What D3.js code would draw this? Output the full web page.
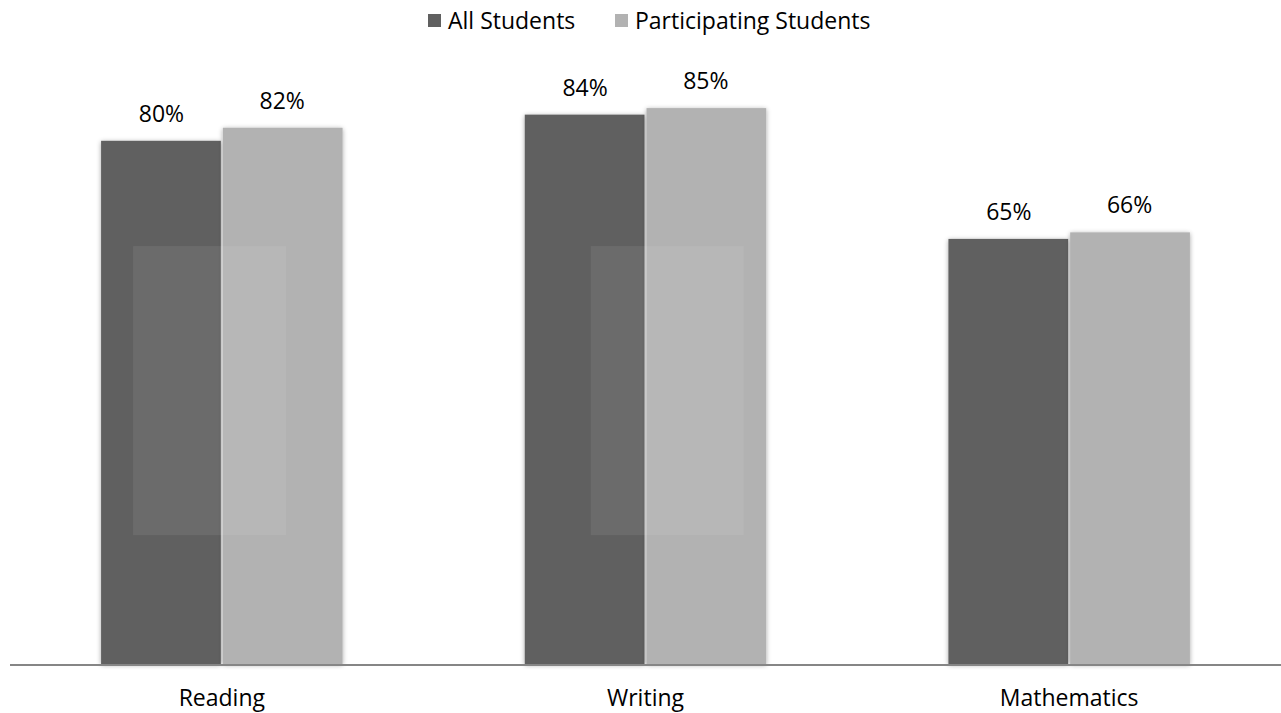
<html>
<head>
<style>
body { margin:0; background:#ffffff; }
svg { display:block; font-family:"Open Sans", "Noto Sans", sans-serif; }
</style>
<script src="https://cdn.jsdelivr.net/npm/d3@7"></script>
</head>
<body>
<svg id="chart" width="1281" height="713"></svg>
<script>
var categories = ["Reading", "Writing", "Mathematics"];
var seriesNames = ["All Students", "Participating Students"];
var allStudents = [80, 84, 65];
var participating = [82, 85, 66];
var seriesColors = ["#606060", "#b2b2b2"];

var svg = d3.select("#chart");
var baseY = 664;

var xScale = d3.scaleBand().domain(categories).range([10, 1281]).paddingInner(0.43).paddingOuter(0.215);
var xInner = d3.scaleBand().domain(seriesNames).range([0, xScale.bandwidth()]).padding(0);
var yScale = d3.scaleLinear().domain([0, 100]).range([baseY, 10]);

// soft glow round the bars
var defs = svg.append("defs");
var f = defs.append("filter").attr("id", "glow").attr("x", "-10%").attr("y", "-5%").attr("width", "120%").attr("height", "110%");
f.append("feGaussianBlur").attr("in", "SourceAlpha").attr("stdDeviation", 2.5).attr("result", "b");
f.append("feOffset").attr("in", "b").attr("dx", 0).attr("dy", 1).attr("result", "o");
f.append("feComponentTransfer").attr("in", "o").attr("result", "s")
  .append("feFuncA").attr("type", "linear").attr("slope", 0.35);
var m = f.append("feMerge");
m.append("feMergeNode").attr("in", "s");
m.append("feMergeNode").attr("in", "SourceGraphic");

var rows = [];
categories.forEach(function(c, i) {
  rows.push({cat: c, s: seriesNames[0], v: allStudents[i], color: seriesColors[0]});
  rows.push({cat: c, s: seriesNames[1], v: participating[i], color: seriesColors[1]});
});

svg.append("g").selectAll("rect").data(rows).enter().append("rect")
  .attr("x", function(d) { return xScale(d.cat) + xInner(d.s) + (d.s === seriesNames[1] ? 1 : 0); })
  .attr("y", function(d) { return yScale(d.v); })
  .attr("width", function(d) { return xInner.bandwidth() - 1; })
  .attr("height", function(d) { return baseY - yScale(d.v); })
  .attr("fill", function(d) { return d.color; })
  .attr("filter", "url(#glow)");

// faint light panel over the first two groups
var panelShift = [32, 66];
svg.append("g").selectAll("rect").data(categories.slice(0, 2)).enter().append("rect")
  .attr("x", function(d, i) { return xScale(d) + panelShift[i]; })
  .attr("y", yScale(63.9))
  .attr("width", 153)
  .attr("height", yScale(19.7) - yScale(63.9))
  .attr("fill", "#ffffff").attr("opacity", 0.07);

// value labels
svg.append("g").selectAll("text").data(rows).enter().append("text")
  .attr("x", function(d) { return xScale(d.cat) + xInner(d.s) + xInner.bandwidth() / 2; })
  .attr("y", function(d) { return yScale(d.v) - 19; })
  .attr("text-anchor", "middle")
  .attr("font-size", 23)
  .attr("fill", "#000000")
  .text(function(d) { return d.v + "%"; });

// x axis
var xAxis = d3.axisBottom(xScale).tickSize(0).tickPadding(26);
var ax = svg.append("g").attr("transform", "translate(0," + baseY + ")").call(xAxis);
ax.select(".domain").attr("stroke", "#868686").attr("stroke-width", 2).attr("d", "M10,1H1281");
ax.selectAll("text").attr("font-size", 23).attr("fill", "#000000").attr("font-family", "'Open Sans', 'Noto Sans', sans-serif");

// legend
var legend = svg.append("g");
var legendX = [428, 615];
seriesNames.forEach(function(s, i) {
  legend.append("rect").attr("x", legendX[i]).attr("y", 14).attr("width", 13).attr("height", 13).attr("fill", seriesColors[i]);
  legend.append("text").attr("x", legendX[i] + 20).attr("y", 29).attr("font-size", 23).attr("fill", "#000000").text(s);
});
</script>
</body>
</html>
